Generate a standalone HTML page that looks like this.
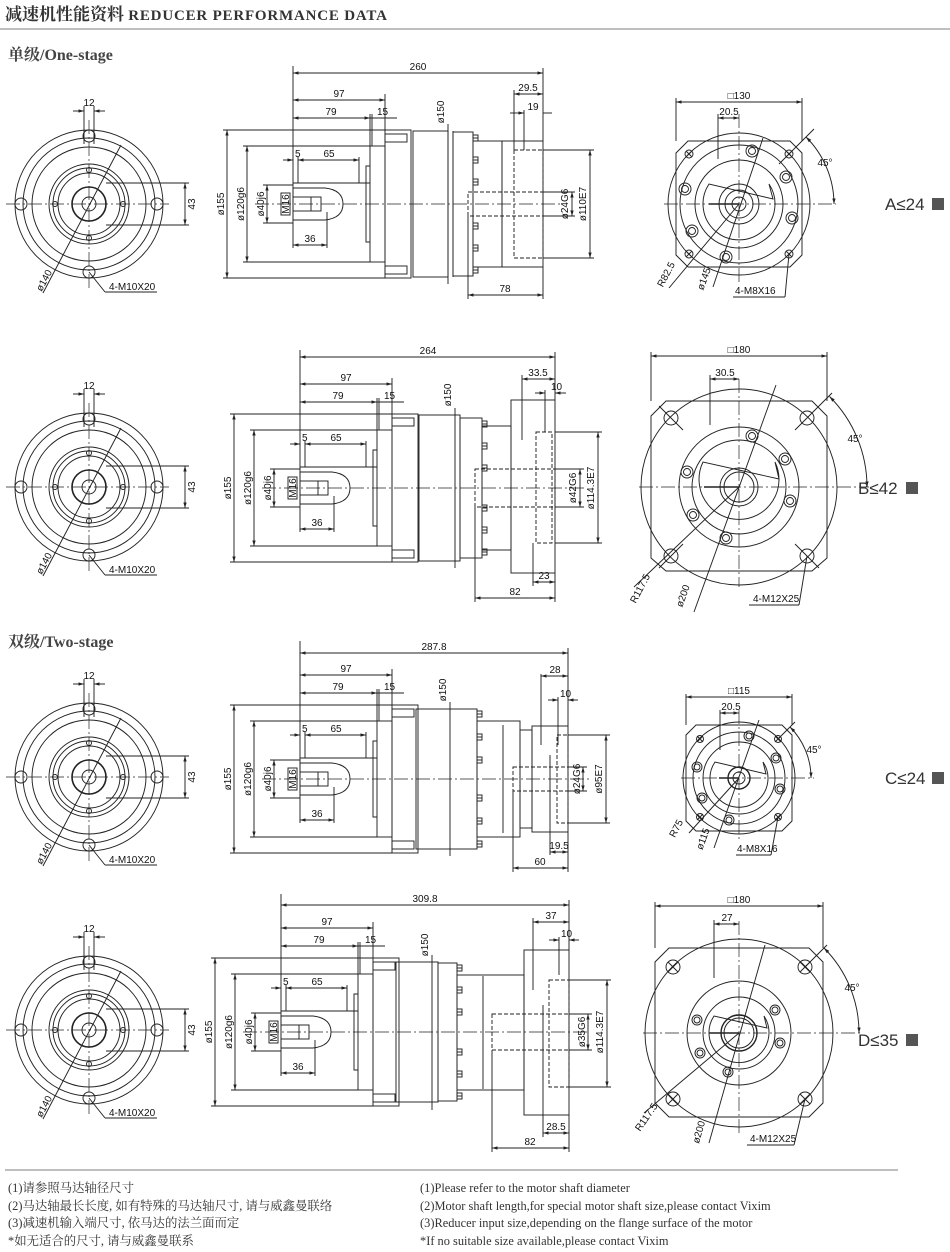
<!DOCTYPE html>
<html><head><meta charset="utf-8">
<style>
html,body{margin:0;padding:0;background:#fff;}
body{width:950px;height:1252px;position:relative;overflow:hidden;}
svg{position:absolute;left:0;top:0;}
.s{fill:none;stroke:#222;stroke-width:0.95;}
.s rect,.s circle,.s path,.s polygon{fill:none;}
.d{marker-start:url(#a);marker-end:url(#a);}
.e{marker-end:url(#a);}
.c{stroke-dasharray:14 3 2 3;stroke-width:0.7;}
.h{stroke-dasharray:4 2;}
text{font-family:"Liberation Sans Narrow","Liberation Sans",sans-serif;font-size:10px;fill:#111;stroke:none;}
.lab{font-family:"Liberation Sans",sans-serif;font-size:17px;fill:#333;}
.ft{font-family:"Liberation Serif","Noto Serif CJK SC",serif;font-size:12.4px;fill:#333;}
</style></head><body>
<svg width="950" height="1252" viewBox="0 0 950 1252" xmlns="http://www.w3.org/2000/svg">
<defs>
<marker id="a" viewBox="0 0 10 10" refX="10" refY="5" markerWidth="6" markerHeight="6" orient="auto-start-reverse"><path d="M0,2L10,5L0,8z" fill="#222"/></marker>
<pattern id="hp" patternUnits="userSpaceOnUse" width="4" height="4"><path d="M-1,5L5,-1M3,5L5,3M-1,1L1,-1" stroke="#333" stroke-width="0.7"/></pattern>
<g id="fv" class="s">
<circle r="74"/><circle r="66"/><circle r="57"/><circle r="40"/><circle r="36"/><circle r="31"/>
<circle r="17" stroke-width="1.6"/><circle r="7"/>
<circle cx="0" cy="-68" r="6"/><circle cx="0" cy="68" r="6"/><circle cx="-68" cy="0" r="6"/><circle cx="68" cy="0" r="6"/>
<circle cx="0" cy="-34" r="2.5"/><circle cx="0" cy="34" r="2.5"/><circle cx="-34" cy="0" r="2.5"/><circle cx="34" cy="0" r="2.5"/>
<line class="c" x1="-83" y1="0" x2="80" y2="0"/><line class="c" x1="0" y1="-84" x2="0" y2="84"/>
<line x1="-5" y1="-98" x2="-5" y2="-60"/><line x1="5" y1="-98" x2="5" y2="-60"/>
<line x1="-16" y1="-93" x2="-5" y2="-93" class="e"/><line x1="16" y1="-93" x2="5" y2="-93" class="e"/>
<line x1="17" y1="-21" x2="100" y2="-21"/><line x1="17" y1="21" x2="100" y2="21"/>
<line class="d" x1="96" y1="-21" x2="96" y2="21"/>
<line x1="-46" y1="89" x2="32" y2="-59"/>
<line x1="0" y1="68" x2="16" y2="88"/><line x1="16" y1="88" x2="68" y2="88"/>
</g>
<g id="lp" class="s">
<line x1="-70" y1="-74" x2="92" y2="-74"/><line x1="-70" y1="74" x2="92" y2="74"/>
<line x1="-50" y1="-58" x2="77" y2="-58"/><line x1="-50" y1="58" x2="77" y2="58"/>
<line x1="-30" y1="-19" x2="0" y2="-19"/><line x1="-30" y1="19" x2="0" y2="19"/>
<line class="d" x1="-66" y1="-74" x2="-66" y2="74"/>
<line class="d" x1="-46" y1="-58" x2="-46" y2="58"/>
<line class="d" x1="-26" y1="-19" x2="-26" y2="19"/>
<line x1="0" y1="-138" x2="0" y2="44"/>
<line x1="0" y1="-21" x2="77" y2="-21"/>
<line x1="5" y1="-47" x2="5" y2="-21"/><line x1="66" y1="-47" x2="66" y2="-21"/>
<line class="d" x1="5" y1="-44" x2="66" y2="-44"/>
<line x1="-10" y1="-44" x2="0" y2="-44" class="e"/>
<path d="M0,-16 H32 Q50,-14 50,0 Q50,14 32,16 H0 Z" fill="url(#hp)"/>
<rect x="0" y="-7" width="28" height="14" fill="#fff"/>
<line x1="18" y1="-7" x2="18" y2="7"/>
<line x1="34" y1="8" x2="34" y2="44"/>
<line class="d" x1="0" y1="41" x2="34" y2="41"/>
<rect x="77" y="-58" width="15" height="116"/><path d="M77,-38 H73 V38 H77"/>
<line x1="77" y1="-90" x2="77" y2="-58"/><line x1="79" y1="-90" x2="79" y2="-58"/><line x1="92" y1="-110" x2="92" y2="-74"/>
<line class="d" x1="0" y1="-104" x2="92" y2="-104"/>
<line class="d" x1="0" y1="-86" x2="77" y2="-86"/>
<line x1="77" y1="-86" x2="104" y2="-86"/>
<rect x="92" y="-74" width="26" height="148"/>
<rect x="92" y="-70" width="22" height="8"/><rect x="92" y="62" width="22" height="8"/>
<rect x="-12" y="-11" width="9" height="22"/>
</g>
<g id="bt" class="s"><rect x="0" y="-3" width="5" height="6"/><line x1="0" y1="0" x2="5" y2="0"/></g>
</defs>

<!-- header -->
<text x="5" y="20" style="font-family:'Liberation Serif','Noto Serif CJK SC',serif;font-size:17px;font-weight:bold;fill:#333">减速机性能资料 <tspan style="font-size:15px;letter-spacing:0.8px">REDUCER PERFORMANCE DATA</tspan></text>
<line x1="0" y1="29" x2="950" y2="29" stroke="#aaa" stroke-width="1.5"/>
<text x="8" y="60" style="font-family:'Liberation Serif','Noto Serif CJK SC',serif;font-size:16px;font-weight:bold;fill:#444">单级/One-stage</text>
<text x="8" y="647" style="font-family:'Liberation Serif','Noto Serif CJK SC',serif;font-size:16px;font-weight:bold;fill:#444">双级/Two-stage</text>

<!-- front views -->
<use href="#fv" x="89" y="204"/><use href="#fv" x="89" y="487"/><use href="#fv" x="89" y="777"/><use href="#fv" x="89" y="1030"/>
<g>
<text x="89" y="106" text-anchor="middle">12</text><text transform="translate(195,204) rotate(-90)" text-anchor="middle">43</text><text transform="translate(47,282) rotate(-62)" text-anchor="middle">ø140</text><text x="109" y="290">4-M10X20</text>
<text x="89" y="389" text-anchor="middle">12</text><text transform="translate(195,487) rotate(-90)" text-anchor="middle">43</text><text transform="translate(47,565) rotate(-62)" text-anchor="middle">ø140</text><text x="109" y="573">4-M10X20</text>
<text x="89" y="679" text-anchor="middle">12</text><text transform="translate(195,777) rotate(-90)" text-anchor="middle">43</text><text transform="translate(47,855) rotate(-62)" text-anchor="middle">ø140</text><text x="109" y="863">4-M10X20</text>
<text x="89" y="932" text-anchor="middle">12</text><text transform="translate(195,1030) rotate(-90)" text-anchor="middle">43</text><text transform="translate(47,1108) rotate(-62)" text-anchor="middle">ø140</text><text x="109" y="1116">4-M10X20</text>
</g>

<!-- side view left parts -->
<use href="#lp" x="293" y="204"/><use href="#lp" x="300" y="488"/><use href="#lp" x="300" y="779"/><use href="#lp" x="281" y="1032"/>

<g transform="translate(293,204)">
<text x="46" y="-107" text-anchor="middle">97</text><text x="38" y="-89" text-anchor="middle">79</text><text x="84" y="-89">15</text>
<text x="2" y="-47">5</text><text x="36" y="-47" text-anchor="middle">65</text><text x="17" y="38" text-anchor="middle">36</text>
<text transform="translate(-69,0) rotate(-90)" text-anchor="middle">ø155</text><text transform="translate(-49,0) rotate(-90)" text-anchor="middle">ø120g6</text>
<text transform="translate(-29,0) rotate(-90)" text-anchor="middle">ø40j6</text><text transform="translate(-4,0) rotate(-90)" text-anchor="middle">M16</text>
</g>
<g transform="translate(300,488)">
<text x="46" y="-107" text-anchor="middle">97</text><text x="38" y="-89" text-anchor="middle">79</text><text x="84" y="-89">15</text>
<text x="2" y="-47">5</text><text x="36" y="-47" text-anchor="middle">65</text><text x="17" y="38" text-anchor="middle">36</text>
<text transform="translate(-69,0) rotate(-90)" text-anchor="middle">ø155</text><text transform="translate(-49,0) rotate(-90)" text-anchor="middle">ø120g6</text>
<text transform="translate(-29,0) rotate(-90)" text-anchor="middle">ø40j6</text><text transform="translate(-4,0) rotate(-90)" text-anchor="middle">M16</text>
</g>
<g transform="translate(300,779)">
<text x="46" y="-107" text-anchor="middle">97</text><text x="38" y="-89" text-anchor="middle">79</text><text x="84" y="-89">15</text>
<text x="2" y="-47">5</text><text x="36" y="-47" text-anchor="middle">65</text><text x="17" y="38" text-anchor="middle">36</text>
<text transform="translate(-69,0) rotate(-90)" text-anchor="middle">ø155</text><text transform="translate(-49,0) rotate(-90)" text-anchor="middle">ø120g6</text>
<text transform="translate(-29,0) rotate(-90)" text-anchor="middle">ø40j6</text><text transform="translate(-4,0) rotate(-90)" text-anchor="middle">M16</text>
</g>
<g transform="translate(281,1032)">
<text x="46" y="-107" text-anchor="middle">97</text><text x="38" y="-89" text-anchor="middle">79</text><text x="84" y="-89">15</text>
<text x="2" y="-47">5</text><text x="36" y="-47" text-anchor="middle">65</text><text x="17" y="38" text-anchor="middle">36</text>
<text transform="translate(-69,0) rotate(-90)" text-anchor="middle">ø155</text><text transform="translate(-49,0) rotate(-90)" text-anchor="middle">ø120g6</text>
<text transform="translate(-29,0) rotate(-90)" text-anchor="middle">ø40j6</text><text transform="translate(-4,0) rotate(-90)" text-anchor="middle">M16</text>
</g>

<!-- Row A right part -->
<g class="s">
<line class="c" x1="255" y1="204" x2="560" y2="204"/>
<rect x="413" y="131" width="35" height="146"/><line x1="448" y1="124" x2="448" y2="284"/><line x1="453" y1="131" x2="453" y2="277"/>
<rect x="453" y="132" width="20" height="144"/>
<use href="#bt" x="473" y="138"/><use href="#bt" x="473" y="160"/><use href="#bt" x="473" y="182"/><use href="#bt" x="473" y="226"/><use href="#bt" x="473" y="248"/><use href="#bt" x="473" y="270"/>
<rect x="473" y="141" width="29" height="126"/><rect x="502" y="141" width="41" height="126"/>
<rect class="h" x="514" y="150" width="29" height="108"/><rect class="h" x="468" y="192" width="75" height="24"/>
<line class="d" x1="293" y1="73" x2="543" y2="73"/><line x1="543" y1="68" x2="543" y2="141"/>
<line class="d" x1="514" y1="94" x2="543" y2="94"/><line x1="514" y1="90" x2="514" y2="150"/>
<line x1="510" y1="113" x2="524" y2="113" class="e"/><line x1="524" y1="110" x2="524" y2="150"/><line x1="543" y1="113" x2="552" y2="113"/>
<line class="d" x1="468" y1="295" x2="543" y2="295"/><line x1="468" y1="216" x2="468" y2="299"/><line x1="543" y1="267" x2="543" y2="299"/>
<line x1="543" y1="192" x2="575" y2="192"/><line x1="543" y1="216" x2="575" y2="216"/><line class="d" x1="572" y1="192" x2="572" y2="216"/>
<line x1="543" y1="150" x2="594" y2="150"/><line x1="543" y1="258" x2="594" y2="258"/><line class="d" x1="590" y1="150" x2="590" y2="258"/>
</g>
<text x="418" y="70" text-anchor="middle">260</text><text x="528" y="91" text-anchor="middle">29.5</text><text x="533" y="110" text-anchor="middle">19</text><text x="505" y="292" text-anchor="middle">78</text>
<text transform="translate(444,112) rotate(-90)" text-anchor="middle">ø150</text>
<text transform="translate(568,204) rotate(-90)" text-anchor="middle">ø24G6</text><text transform="translate(586,204) rotate(-90)" text-anchor="middle">ø110E7</text>

<!-- Row B right part -->
<g class="s">
<line class="c" x1="262" y1="488" x2="585" y2="488"/>
<rect x="419" y="415" width="41" height="146"/><line x1="455" y1="408" x2="455" y2="568"/>
<rect x="460" y="418" width="22" height="140"/>
<use href="#bt" x="482" y="424"/><use href="#bt" x="482" y="446"/><use href="#bt" x="482" y="468"/><use href="#bt" x="482" y="508"/><use href="#bt" x="482" y="530"/><use href="#bt" x="482" y="552"/>
<rect x="482" y="426" width="29" height="124"/><rect x="511" y="400" width="44" height="173"/>
<line x1="522" y1="375" x2="522" y2="440"/><line x1="545" y1="390" x2="545" y2="432"/>
<rect class="h" x="536" y="432" width="16" height="111"/><rect class="h" x="475" y="469" width="80" height="38"/>
<line class="d" x1="300" y1="357" x2="555" y2="357"/><line x1="555" y1="352" x2="555" y2="400"/>
<line class="d" x1="522" y1="379" x2="555" y2="379"/>
<line x1="535" y1="393" x2="545" y2="393" class="e"/><line x1="566" y1="393" x2="555" y2="393" class="e"/>
<line class="d" x1="475" y1="598" x2="555" y2="598"/><line x1="475" y1="507" x2="475" y2="602"/><line x1="555" y1="573" x2="555" y2="602"/>
<line class="d" x1="533" y1="582" x2="555" y2="582"/><line x1="533" y1="543" x2="533" y2="586"/>
<line x1="555" y1="469" x2="584" y2="469"/><line x1="555" y1="507" x2="584" y2="507"/><line class="d" x1="580" y1="469" x2="580" y2="507"/>
<line x1="555" y1="432" x2="602" y2="432"/><line x1="555" y1="543" x2="602" y2="543"/><line class="d" x1="598" y1="432" x2="598" y2="543"/>
</g>
<text x="428" y="354" text-anchor="middle">264</text><text x="538" y="376" text-anchor="middle">33.5</text><text x="551" y="390">10</text><text x="515" y="595" text-anchor="middle">82</text><text x="544" y="579" text-anchor="middle">23</text>
<text transform="translate(451,395) rotate(-90)" text-anchor="middle">ø150</text>
<text transform="translate(576,488) rotate(-90)" text-anchor="middle">ø42G6</text><text transform="translate(594,488) rotate(-90)" text-anchor="middle">ø114.3E7</text>

<!-- Row C right part -->
<g class="s">
<line class="c" x1="262" y1="779" x2="590" y2="779"/>
<rect x="416" y="709" width="61" height="140"/><line x1="450" y1="702" x2="450" y2="856"/>
<use href="#bt" x="477" y="714"/><use href="#bt" x="477" y="737"/><use href="#bt" x="477" y="760"/><use href="#bt" x="477" y="798"/><use href="#bt" x="477" y="821"/><use href="#bt" x="477" y="844"/>
<rect x="477" y="721" width="43" height="116"/><line x1="503" y1="725" x2="503" y2="833"/>
<rect x="520" y="730" width="12" height="98"/><rect x="532" y="726" width="36" height="106"/>
<line x1="541" y1="674" x2="541" y2="745"/><line x1="550" y1="755" x2="550" y2="855"/><line x1="558" y1="697" x2="558" y2="745"/>
<rect class="h" x="557" y="735" width="11" height="88"/><rect class="h" x="513" y="767" width="55" height="24"/>
<line class="d" x1="300" y1="653" x2="568" y2="653"/><line x1="568" y1="648" x2="568" y2="726"/>
<line class="d" x1="541" y1="676" x2="568" y2="676"/>
<line x1="548" y1="700" x2="558" y2="700" class="e"/><line x1="578" y1="700" x2="568" y2="700" class="e"/>
<line class="d" x1="513" y1="868" x2="568" y2="868"/><line x1="513" y1="791" x2="513" y2="872"/><line x1="568" y1="832" x2="568" y2="872"/>
<line class="d" x1="550" y1="852" x2="568" y2="852"/>
<line x1="568" y1="767" x2="587" y2="767"/><line x1="568" y1="791" x2="587" y2="791"/><line class="d" x1="583" y1="767" x2="583" y2="791"/>
<line x1="568" y1="735" x2="610" y2="735"/><line x1="568" y1="823" x2="610" y2="823"/><line class="d" x1="606" y1="735" x2="606" y2="823"/>
</g>
<text x="434" y="650" text-anchor="middle">287.8</text><text x="555" y="673" text-anchor="middle">28</text><text x="560" y="697">10</text><text x="540" y="865" text-anchor="middle">60</text><text x="559" y="849" text-anchor="middle">19.5</text>
<text transform="translate(446,690) rotate(-90)" text-anchor="middle">ø150</text>
<text transform="translate(580,779) rotate(-90)" text-anchor="middle">ø24G6</text><text transform="translate(602,779) rotate(-90)" text-anchor="middle">ø95E7</text>

<!-- Row D right part -->
<g class="s">
<line class="c" x1="243" y1="1032" x2="590" y2="1032"/>
<rect x="396" y="962" width="42" height="140"/><line x1="432" y1="955" x2="432" y2="1110"/>
<rect x="438" y="963" width="19" height="138"/>
<use href="#bt" x="457" y="968"/><use href="#bt" x="457" y="990"/><use href="#bt" x="457" y="1012"/><use href="#bt" x="457" y="1052"/><use href="#bt" x="457" y="1074"/><use href="#bt" x="457" y="1096"/>
<rect x="457" y="975" width="67" height="115"/><line x1="483" y1="976" x2="483" y2="1089"/>
<rect x="524" y="950" width="45" height="165"/>
<line x1="533" y1="918" x2="533" y2="990"/><line x1="559" y1="937" x2="559" y2="975"/><line x1="543" y1="1005" x2="543" y2="1137"/>
<rect class="h" x="549" y="980" width="20" height="107"/><rect class="h" x="492" y="1014" width="77" height="36"/>
<line class="d" x1="281" y1="905" x2="569" y2="905"/><line x1="569" y1="900" x2="569" y2="950"/>
<line class="d" x1="533" y1="922" x2="569" y2="922"/>
<line x1="549" y1="940" x2="559" y2="940" class="e"/><line x1="579" y1="940" x2="569" y2="940" class="e"/>
<line class="d" x1="492" y1="1148" x2="569" y2="1148"/><line x1="492" y1="1050" x2="492" y2="1152"/><line x1="569" y1="1115" x2="569" y2="1152"/>
<line class="d" x1="543" y1="1133" x2="569" y2="1133"/>
<line x1="569" y1="1014" x2="592" y2="1014"/><line x1="569" y1="1050" x2="592" y2="1050"/><line class="d" x1="588" y1="1014" x2="588" y2="1050"/>
<line x1="569" y1="980" x2="611" y2="980"/><line x1="569" y1="1087" x2="611" y2="1087"/><line class="d" x1="607" y1="980" x2="607" y2="1087"/>
</g>
<text x="425" y="902" text-anchor="middle">309.8</text><text x="551" y="919" text-anchor="middle">37</text><text x="561" y="937">10</text><text x="530" y="1145" text-anchor="middle">82</text><text x="556" y="1130" text-anchor="middle">28.5</text>
<text transform="translate(428,945) rotate(-90)" text-anchor="middle">ø150</text>
<text transform="translate(585,1032) rotate(-90)" text-anchor="middle">ø35G6</text><text transform="translate(603,1032) rotate(-90)" text-anchor="middle">ø114.3E7</text>

<!-- Right views -->
<g class="s" transform="translate(739,204)">
<polygon points="-51,-63 51,-63 63,-51 63,51 51,63 -51,63 -63,51 -63,-51"/>
<circle r="71"/><circle r="59"/><circle r="44"/><path d="M-30,-20 A36,36 0 1 0 30,-20 L34,-5 Z"/>
<circle r="20"/><circle r="14"/><circle r="7"/>
<g><circle cx="13" cy="-53" r="6"/><circle cx="13" cy="-53" r="3.5"/><circle cx="47" cy="-27" r="6"/><circle cx="47" cy="-27" r="3.5"/><circle cx="53" cy="14" r="6"/><circle cx="53" cy="14" r="3.5"/><circle cx="-54" cy="-15" r="6"/><circle cx="-54" cy="-15" r="3.5"/><circle cx="-47" cy="27" r="6"/><circle cx="-47" cy="27" r="3.5"/><circle cx="-13" cy="53" r="6"/><circle cx="-13" cy="53" r="3.5"/></g>
<g><circle cx="-50" cy="-50" r="4"/><circle cx="50" cy="-50" r="4"/><circle cx="-50" cy="50" r="4"/><circle cx="50" cy="50" r="4"/>
<path d="M-53,-53L-47,-47M-47,-53L-53,-47M47,-53L53,-47M53,-53L47,-47M-53,47L-47,53M-47,47L-53,53M47,47L53,53M53,47L47,53"/></g>
<line class="c" x1="-75" y1="0" x2="97" y2="0"/><line class="c" x1="0" y1="-90" x2="0" y2="80"/>
<line x1="-30" y1="0" x2="0" y2="0" stroke-width="1.5"/>
<line x1="-63" y1="-106" x2="-63" y2="-63"/><line x1="63" y1="-106" x2="63" y2="-63"/><line class="d" x1="-63" y1="-102" x2="63" y2="-102"/>
<line x1="-21" y1="-90" x2="-21" y2="-45"/><line class="d" x1="-21" y1="-86" x2="0" y2="-86"/>
<line x1="40" y1="-40" x2="75" y2="-75"/><path d="M67,-67 A95,95 0 0 1 95,0" marker-start="url(#a)" marker-end="url(#a)"/>
<line x1="0" y1="0" x2="-70" y2="84"/><line x1="24" y1="-66" x2="-26" y2="83"/>
<line x1="50" y1="50" x2="46" y2="93"/><line x1="46" y1="93" x2="-6" y2="93"/>
</g>
<g transform="translate(739,204)">
<text x="0" y="-105" text-anchor="middle">□130</text><text x="-10" y="-89" text-anchor="middle">20.5</text><text x="86" y="-38" text-anchor="middle">45°</text>
<text transform="translate(-70,72) rotate(-62)" text-anchor="middle">R82.5</text><text transform="translate(-32,76) rotate(-70)" text-anchor="middle">ø145</text><text x="-4" y="90">4-M8X16</text>
</g>
<g class="s" transform="translate(739,487)">
<polygon points="-73,-86 73,-86 88,-71 88,71 73,84 -73,84 -88,71 -88,-71"/>
<circle r="98"/><circle r="60"/><circle r="47"/><path d="M-36,-25 A40,40 0 1 0 36,-25 L40,-8 Z"/>
<circle r="19"/><circle r="15"/>
<g><circle cx="13" cy="-51" r="6"/><circle cx="13" cy="-51" r="3.5"/><circle cx="46" cy="-28" r="6"/><circle cx="46" cy="-28" r="3.5"/><circle cx="51" cy="14" r="6"/><circle cx="51" cy="14" r="3.5"/><circle cx="-52" cy="-15" r="6"/><circle cx="-52" cy="-15" r="3.5"/><circle cx="-46" cy="28" r="6"/><circle cx="-46" cy="28" r="3.5"/><circle cx="-13" cy="51" r="6"/><circle cx="-13" cy="51" r="3.5"/></g>
<g><circle cx="-68" cy="-69" r="7"/><circle cx="68" cy="-69" r="7"/><circle cx="-68" cy="69" r="7"/><circle cx="68" cy="69" r="7"/>
<path d="M-80,-81L-56,-57M56,-57L80,-81M-80,81L-56,57M56,57L80,81"/></g>
<line class="c" x1="-100" y1="0" x2="130" y2="0"/><line class="c" x1="0" y1="-108" x2="0" y2="100"/>
<line x1="-35" y1="0" x2="0" y2="0" stroke-width="1.5"/>
<line x1="-88" y1="-135" x2="-88" y2="-86"/><line x1="88" y1="-135" x2="88" y2="-86"/><line class="d" x1="-88" y1="-131" x2="88" y2="-131"/>
<line x1="-29" y1="-112" x2="-29" y2="-62"/><line class="d" x1="-29" y1="-108" x2="0" y2="-108"/>
<line x1="80" y1="-81" x2="93" y2="-94"/><path d="M90.5,-90.5 A128,128 0 0 1 128,0" marker-start="url(#a)" marker-end="url(#a)"/>
<line x1="0" y1="0" x2="-105" y2="100"/><line x1="37" y1="-102" x2="-45" y2="125"/>
<line x1="68" y1="69" x2="60" y2="118"/><line x1="60" y1="118" x2="10" y2="118"/>
</g>
<g transform="translate(739,487)">
<text x="0" y="-134" text-anchor="middle">□180</text><text x="-14" y="-111" text-anchor="middle">30.5</text><text x="116" y="-45" text-anchor="middle">45°</text>
<text transform="translate(-96,103) rotate(-62)" text-anchor="middle">R117.5</text><text transform="translate(-53,110) rotate(-70)" text-anchor="middle">ø200</text><text x="14" y="115">4-M12X25</text>
</g>
<g class="s" transform="translate(739,778)">
<polygon points="-43,-53 43,-53 53,-43 53,43 43,53 -43,53 -53,43 -53,-43"/>
<circle r="56"/><circle r="46"/><circle r="36"/><path d="M-24,-16 A29,29 0 1 0 24,-16 L27,-4 Z"/>
<circle r="11" stroke-width="1.4"/><circle r="6"/>
<g><circle cx="10" cy="-42" r="5"/><circle cx="10" cy="-42" r="3"/><circle cx="37" cy="-20" r="5"/><circle cx="37" cy="-20" r="3"/><circle cx="41" cy="11" r="5"/><circle cx="41" cy="11" r="3"/><circle cx="-42" cy="-11" r="5"/><circle cx="-42" cy="-11" r="3"/><circle cx="-37" cy="20" r="5"/><circle cx="-37" cy="20" r="3"/><circle cx="-10" cy="42" r="5"/><circle cx="-10" cy="42" r="3"/></g>
<g><circle cx="-39" cy="-39" r="3.5"/><circle cx="39" cy="-39" r="3.5"/><circle cx="-39" cy="39" r="3.5"/><circle cx="39" cy="39" r="3.5"/>
<path d="M-42,-42L-36,-36M-36,-42L-42,-36M36,-42L42,-36M42,-42L36,-36M-42,36L-36,42M-36,36L-42,42M36,36L42,42M42,36L36,42"/></g>
<line class="c" x1="-58" y1="0" x2="75" y2="0"/><line class="c" x1="0" y1="-68" x2="0" y2="62"/>
<line x1="-20" y1="0" x2="0" y2="0" stroke-width="1.5"/>
<line x1="-53" y1="-84" x2="-53" y2="-53"/><line x1="53" y1="-84" x2="53" y2="-53"/><line class="d" x1="-53" y1="-81" x2="53" y2="-81"/>
<line x1="-19" y1="-68" x2="-19" y2="-28"/><line class="d" x1="-19" y1="-65" x2="0" y2="-65"/>
<line x1="39" y1="-39" x2="56" y2="-56"/><path d="M51,-51 A72,72 0 0 1 72,0" marker-start="url(#a)" marker-end="url(#a)"/>
<line x1="0" y1="0" x2="-50" y2="55"/><line x1="20" y1="-58" x2="-25" y2="70"/>
<line x1="39" y1="39" x2="32" y2="77"/><line x1="32" y1="77" x2="-3" y2="77"/>
</g>
<g transform="translate(739,778)">
<text x="0" y="-84" text-anchor="middle">□115</text><text x="-8" y="-68" text-anchor="middle">20.5</text><text x="75" y="-25" text-anchor="middle">45°</text>
<text transform="translate(-60,52) rotate(-62)" text-anchor="middle">R75</text><text transform="translate(-33,62) rotate(-70)" text-anchor="middle">ø115</text><text x="-2" y="74">4-M8X16</text>
</g>
<g class="s" transform="translate(739,1033)">
<polygon points="-70,-85 70,-85 84,-71 84,70 70,84 -70,84 -84,70 -84,-71"/>
<circle r="94"/><circle r="52"/><circle r="36"/><path d="M-25,-17 A30,30 0 1 0 25,-17 L28,-5 Z"/>
<circle r="18" stroke-width="1.4"/><circle r="15"/>
<g><circle cx="-42" cy="-13" r="5"/><circle cx="-42" cy="-13" r="3"/><circle cx="36" cy="-23" r="5"/><circle cx="36" cy="-23" r="3"/><circle cx="41" cy="10" r="5"/><circle cx="41" cy="10" r="3"/><circle cx="-39" cy="20" r="5"/><circle cx="-39" cy="20" r="3"/><circle cx="-11" cy="39" r="5"/><circle cx="-11" cy="39" r="3"/></g>
<g><circle cx="-66" cy="-66" r="7"/><circle cx="66" cy="-66" r="7"/><circle cx="-66" cy="66" r="7"/><circle cx="66" cy="66" r="7"/>
<path d="M-71,-71L-61,-61M-61,-71L-71,-61M61,-71L71,-61M71,-71L61,-61M-71,61L-61,71M-61,61L-71,71M61,61L71,71M71,61L61,71"/></g>
<line class="c" x1="-96" y1="0" x2="122" y2="0"/><line class="c" x1="0" y1="-112" x2="0" y2="100"/>
<line x1="-30" y1="0" x2="0" y2="0" stroke-width="1.5"/>
<line x1="-84" y1="-131" x2="-84" y2="-85"/><line x1="84" y1="-131" x2="84" y2="-85"/><line class="d" x1="-84" y1="-127" x2="84" y2="-127"/>
<line x1="-25" y1="-113" x2="-25" y2="-55"/><line class="d" x1="-25" y1="-109" x2="0" y2="-109"/>
<line x1="66" y1="-66" x2="88" y2="-88"/><path d="M85,-85 A120,120 0 0 1 120,0" marker-start="url(#a)" marker-end="url(#a)"/>
<line x1="0" y1="0" x2="-95" y2="80"/><line x1="26" y1="-88" x2="-30" y2="110"/>
<line x1="66" y1="66" x2="55" y2="112"/><line x1="55" y1="112" x2="8" y2="112"/>
</g>
<g transform="translate(739,1033)">
<text x="0" y="-130" text-anchor="middle">□180</text><text x="-12" y="-112" text-anchor="middle">27</text><text x="113" y="-42" text-anchor="middle">45°</text>
<text transform="translate(-90,86) rotate(-55)" text-anchor="middle">R117.5</text><text transform="translate(-37,100) rotate(-74)" text-anchor="middle">ø200</text><text x="11" y="109">4-M12X25</text>
</g>

<!-- size labels -->
<text class="lab" x="885" y="210">A≤24</text><rect x="932" y="198" width="12" height="12" fill="#555"/>
<text class="lab" x="858" y="494">B≤42</text><rect x="906" y="482" width="12" height="12" fill="#555"/>
<text class="lab" x="885" y="784">C≤24</text><rect x="932" y="772" width="12" height="12" fill="#555"/>
<text class="lab" x="858" y="1046">D≤35</text><rect x="906" y="1034" width="12" height="12" fill="#555"/>

<!-- footer -->
<line x1="5" y1="1170" x2="898" y2="1170" stroke="#aaa" stroke-width="1.5"/>
<text class="ft" x="8" y="1192">(1)请参照马达轴径尺寸</text>
<text class="ft" x="8" y="1210">(2)马达轴最长长度, 如有特殊的马达轴尺寸, 请与威鑫曼联络</text>
<text class="ft" x="8" y="1227">(3)减速机输入端尺寸, 依马达的法兰面而定</text>
<text class="ft" x="8" y="1245">*如无适合的尺寸, 请与威鑫曼联系</text>
<text class="ft" x="420" y="1192">(1)Please refer to the motor shaft diameter</text>
<text class="ft" x="420" y="1210">(2)Motor shaft length,for special motor shaft size,please contact Vixim</text>
<text class="ft" x="420" y="1227">(3)Reducer input size,depending on the flange surface of the motor</text>
<text class="ft" x="420" y="1245">*If no suitable size available,please contact Vixim</text>
</svg>
</body></html>
